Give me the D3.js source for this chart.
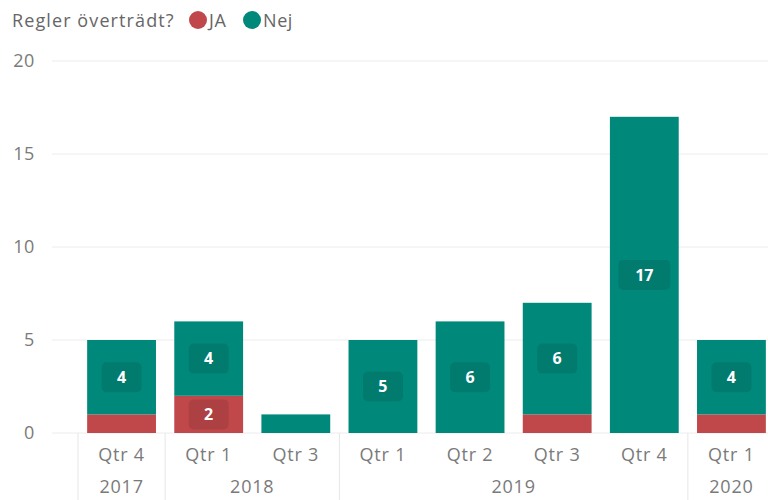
<!DOCTYPE html>
<html><head><meta charset="utf-8">
<script src="https://cdn.jsdelivr.net/npm/d3@7"></script>
<style>body{margin:0;background:#fff}svg{display:block}text{font-family:"Open Sans",sans-serif}</style>
</head><body><svg id="c" width="768" height="500"></svg>
<script>
const quarters = ["Qtr 4","Qtr 1","Qtr 3","Qtr 1","Qtr 2","Qtr 3","Qtr 4","Qtr 1"];
const years = ["2017","2018","2018","2019","2019","2019","2019","2020"];
const jaValues = [1,2,0,0,0,1,0,1];
const nejValues = [4,4,1,5,6,6,17,4];
const yTicks = [0,5,10,15,20];
const seriesNames = ["JA","Nej"];
const colors = {JA:"#C0484A", Nej:"#00897B"};
const legendTitle = "Regler överträdt?";

const svg = d3.select("#c");
const ids = quarters.map((q,i)=>years[i]+" "+q);
const x = d3.scaleBand().domain(ids).range([78,775]).paddingInner(0.21).paddingOuter(0.105);
const y = d3.scaleLinear().domain([0,20]).range([433,61]);
const axisColor = "#7a7a7a";

// gridlines
svg.append("g").selectAll("line").data(yTicks).join("line")
  .attr("x1",52).attr("x2",768).attr("y1",d=>y(d)).attr("y2",d=>y(d))
  .attr("stroke","#ececec").attr("stroke-width",1);
// y labels
svg.append("g").selectAll("text").data(yTicks).join("text")
  .attr("x",35).attr("y",d=>y(d)).attr("dy","0.35em").attr("text-anchor","end")
  .attr("font-size",18).attr("letter-spacing","0.6px").attr("fill",axisColor).text(d=>d);

const rows = ids.map((id,i)=>({id, JA:jaValues[i], Nej:nejValues[i]}));
const stack = d3.stack().keys(seriesNames)(rows);
const g = svg.append("g");
stack.forEach(s=>{
  g.selectAll(null).data(s.filter(d=>d[1]>d[0])).join("rect")
    .attr("x",d=>x(d.data.id)).attr("width",x.bandwidth())
    .attr("y",d=>y(d[1])).attr("height",d=>y(d[0])-y(d[1]))
    .attr("fill",colors[s.key]);
});
// labels
stack.forEach(s=>{
  const lab = s.filter(d=>d[1]-d[0]>=2);
  const lg = g.selectAll(null).data(lab).join("g")
    .attr("transform",d=>`translate(${x(d.data.id)+x.bandwidth()/2},${(y(d[0])+y(d[1]))/2})`);
  lg.append("rect")
    .attr("x",d=>String(d[1]-d[0]).length>1?-26:-20)
    .attr("width",d=>String(d[1]-d[0]).length>1?52:40)
    .attr("y",-15).attr("height",30).attr("rx",5)
    .attr("fill","rgba(0,0,0,0.1)");
  lg.append("text").attr("text-anchor","middle").attr("dy","0.36em")
    .attr("font-size",16).attr("font-weight","bold").attr("fill","#fff")
    .text(d=>d[1]-d[0]);
});

// x axis separators
const step = x.step();
const sepIdx = [0,1,3,7];
svg.append("g").selectAll("line").data(sepIdx).join("line")
  .attr("x1",i=>x(ids[i])-(step-x.bandwidth())/2).attr("x2",i=>x(ids[i])-(step-x.bandwidth())/2)
  .attr("y1",433).attr("y2",500).attr("stroke","#e6e6e6");
svg.append("g").selectAll("text").data(quarters).join("text")
  .attr("x",(d,i)=>x(ids[i])+x.bandwidth()/2).attr("y",455).attr("dy","0.35em")
  .attr("text-anchor","middle").attr("font-size",18).attr("letter-spacing","0.8px").attr("fill",axisColor).text(d=>d);
const yearGroups = d3.groups(ids.map((id,i)=>({id,yr:years[i]})), d=>d.yr);
svg.append("g").selectAll("text").data(yearGroups).join("text")
  .attr("x",d=>{const a=d[1][0].id,b=d[1][d[1].length-1].id;return (x(a)+x(b)+x.bandwidth())/2;})
  .attr("y",487).attr("dy","0.35em").attr("text-anchor","middle")
  .attr("font-size",18).attr("letter-spacing","0.8px").attr("fill",axisColor).text(d=>d[0]);

// legend
const leg = svg.append("g");
leg.append("text").attr("x",12).attr("y",21).attr("dy","0.35em").attr("font-size",18).attr("letter-spacing","1.1px").attr("fill","#666").text(legendTitle);
const lx = [198,252];
seriesNames.forEach((n,i)=>{
  leg.append("circle").attr("cx",lx[i]).attr("cy",20).attr("r",9).attr("fill",colors[n]);
  leg.append("text").attr("x",lx[i]+11).attr("y",21).attr("dy","0.35em").attr("font-size",18).attr("letter-spacing","0.6px").attr("fill","#666").text(n);
});
</script></body></html>
